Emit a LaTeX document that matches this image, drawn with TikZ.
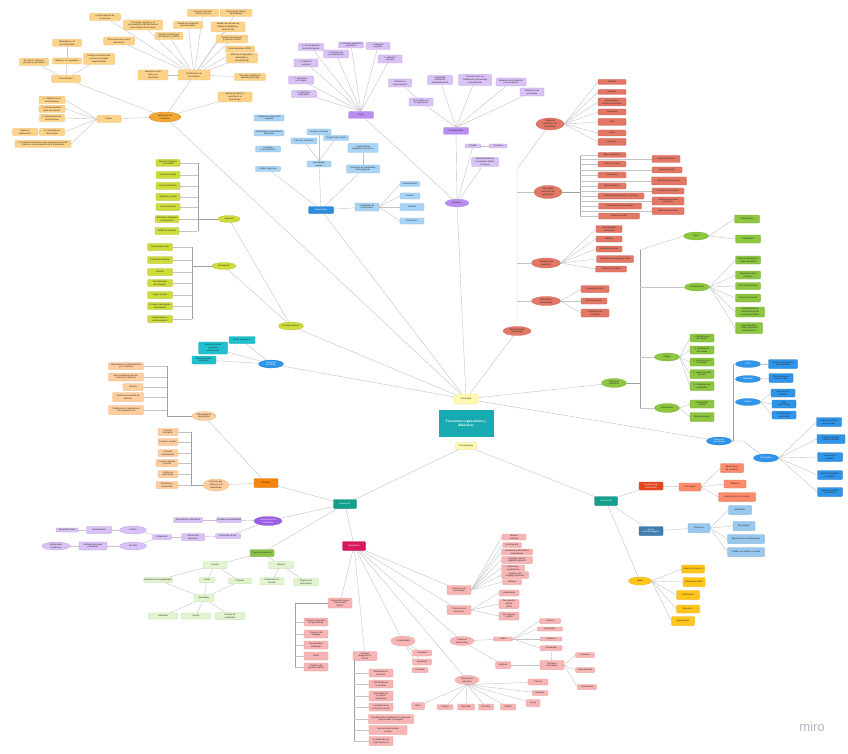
\documentclass[tikz,border=0pt]{standalone}
\usepackage{fontspec}
\setmainfont{Liberation Sans}
\newfontfamily\serifT{Liberation Serif}
\usetikzlibrary{shapes.geometric,backgrounds}
\definecolor{lnC}{HTML}{C4C4C4}
\definecolor{brC}{HTML}{A0A0A0}
\definecolor{orgF}{HTML}{FDD38A}\definecolor{orgD}{HTML}{EDB455}\definecolor{orgH}{HTML}{F2A735}
\definecolor{limF}{HTML}{CDDC39}\definecolor{limD}{HTML}{AFBE2A}
\definecolor{cyF}{HTML}{1FC1CE}\definecolor{cyD}{HTML}{14A8B4}
\definecolor{bluE}{HTML}{2F95EA}
\definecolor{peF}{HTML}{FFCD9E}\definecolor{peD}{HTML}{F2B07C}
\definecolor{orR}{HTML}{F7850F}
\definecolor{tealE}{HTML}{139F8C}
\definecolor{purE}{HTML}{9B5DE5}
\definecolor{lpF}{HTML}{D9C2F5}\definecolor{lpD}{HTML}{BB9AE8}
\definecolor{mpF}{HTML}{B98DF0}
\definecolor{grE}{HTML}{8BC34A}
\definecolor{lgF}{HTML}{E2F4CF}\definecolor{lgD}{HTML}{B8DD93}
\definecolor{magE}{HTML}{D7195E}
\definecolor{pkF}{HTML}{F8B5B5}\definecolor{pkD}{HTML}{E79393}
\definecolor{rdF}{HTML}{E27765}\definecolor{rdD}{HTML}{C9604F}
\definecolor{grR}{HTML}{8DC63F}\definecolor{grRD}{HTML}{77AD30}
\definecolor{dRed}{HTML}{E5451E}
\definecolor{salF}{HTML}{FF8B6B}
\definecolor{stB}{HTML}{3F7EAE}
\definecolor{lbF}{HTML}{98C8EE}
\definecolor{goldF}{HTML}{FFC51A}\definecolor{goldD}{HTML}{E8AE00}
\definecolor{yelF}{HTML}{FFF8B0}\definecolor{yelD}{HTML}{E6DC8A}
\definecolor{ctr}{HTML}{17AAB1}
\definecolor{lbl}{HTML}{A9D4F5}\definecolor{lbD}{HTML}{7DB7E6}
\definecolor{blH}{HTML}{2E8BDE}
\definecolor{miroC}{HTML}{B4B4C4}
\newcommand\tf{\fontsize{2.2}{2.65}\selectfont}
\newcommand\nd[6]{\node[#1,minimum width=#4pt,minimum height=#5pt] (#2) at (#3) {#6};}
\tikzset{
 bx/.style={draw,rounded corners=0.8pt,line width=0.25pt,inner sep=0.3pt,align=center,font=\tf,text=black!85},
 el/.style={ellipse,draw,line width=0.25pt,inner sep=0pt,align=center,font=\tf,text=black!85},
 org/.style={bx,fill=orgF,draw=orgD},
 lim/.style={bx,fill=limF,draw=limD},
 cyb/.style={bx,fill=cyF,draw=cyD},
 peb/.style={bx,fill=peF,draw=peD},
 lpb/.style={bx,fill=lpF,draw=lpD},
 lgb/.style={bx,fill=lgF,draw=lgD},
 pkb/.style={bx,fill=pkF,draw=pkD},
 rdb/.style={bx,fill=rdF,draw=rdD},
 grb/.style={bx,fill=grR,draw=grRD},
 blb/.style={bx,fill=bluE,draw=bluE!80!black},
 lbb/.style={bx,fill=lbl,draw=lbD},
 sab/.style={bx,fill=salF,draw=salF!80!black},
 gdb/.style={bx,fill=goldF,draw=goldD},
 yeb/.style={bx,fill=yelF,draw=yelD},
 ln/.style={draw=lnC,line width=0.4pt},
 br/.style={draw=brC,line width=0.45pt},
}
\begin{document}
\begin{tikzpicture}[x=1pt,y=-1pt]
\useasboundingbox (0,0) rectangle (848,754);
%================ CENTER
\node[fill=ctr,draw=ctr,minimum width=54pt,minimum height=26pt,inner sep=0.5pt,align=center,text=white,font=\serifT\bfseries\fontsize{3.6}{4.4}\selectfont] (Z) at (466,423) {Trastornos cognoscitivos y\\didácticos};
\nd{yeb}{Y1}{466,399}{24}{10}{Psicología}
\nd{yeb}{Y2}{466,446}{21}{7}{Psicopatología}
%================ A orange
\nd{el,fill=orgH,draw=orgH!85!black}{A0}{165,117}{32}{10}{Modelos de la\\memoria}
\nd{org}{A1}{194,75}{32}{10}{Clasificación de\\los modelos}
\nd{org}{A2}{66,79}{29}{7}{Antecedentes}
\nd{org}{A3}{109,119}{24}{7}{Etapas}
\nd{org}{a1}{105,17}{31}{7}{La investigación de\\la memoria}
\nd{org}{a2}{143,25}{39}{10}{Psicología cognitiva y el\\procesamiento de información\\como modelo de la mente}
\nd{org}{a3}{119,41}{31}{8}{El procesamiento de la\\información}
\nd{org}{a4}{169,36}{28}{7}{Modelo multialmacén\\de Atkinson y Shiffrin}
\nd{org}{a5}{188,25}{29}{7}{Modelo de niveles de\\procesamiento}
\nd{org}{a6}{203,13}{31}{7}{Memoria sensorial:\\icónica y ecoica}
\nd{org}{a7}{236,13}{32}{7}{Memoria de trabajo\\de Baddeley}
\nd{org}{a8}{228,27}{34}{10}{Modelo de memoria de\\trabajo de Baddeley y\\Hitch (1974)}
\nd{org}{a9}{232,39}{31}{8}{Agenda visoespacial\\y ejecutivo central}
\nd{org}{a10}{240,49}{29}{6}{Retén episódico (2000)}
\nd{org}{a11}{242,58}{31}{10}{Memoria a largo plazo:\\declarativa y\\procedimental}
\nd{org}{a12}{153,75}{30}{10}{Memoria a corto\\plazo y su\\capacidad}
\nd{org}{a13}{250,77}{31}{7}{Memoria semántica y\\episódica (Tulving)}
\nd{org}{a14}{235,97}{34}{10}{Memoria implícita y\\explícita en el\\aprendizaje}
\nd{org}{b1}{67,43}{29}{7}{Ebbinghaus y la\\curva del olvido}
\nd{org}{b2}{67,61}{29}{6}{Bartlett y los esquemas}
\nd{org}{b3}{34,62}{29}{7}{W. James: memoria\\primaria y secundaria}
\nd{org}{b4}{99,59}{31}{11}{Enfoque asociacionista\\y primeros estudios\\experimentales}
\nd{org}{c1}{52,100}{26}{7}{1. Codificación de\\la información}
\nd{org}{c2}{52,109}{26}{7}{2. Almacenamiento\\de la información}
\nd{org}{c3}{52,118}{25}{7}{3. Recuperación de\\la información}
\nd{org}{c4}{52,132}{25}{7}{4. Consolidación\\de la huella}
\nd{org}{c5}{25,132}{25}{7}{Repaso y\\elaboración}
\nd{org}{c6}{43,144}{56}{7}{5. El olvido: interferencia, decaimiento de la huella\\y fallos en la recuperación de la información}
%================ B lime
\nd{el,fill=limF,draw=limD}{B0}{291,326}{25}{8}{Procesos básicos}
\nd{el,fill=limF,draw=limD}{B1}{229,219}{22}{7}{Atención}
\nd{el,fill=limF,draw=limD}{B2}{224,266}{24}{7}{Percepción}
\nd{lim}{g1}{168,163}{24}{7}{Atención selectiva\\y sostenida}
\nd{lim}{g2}{168,175}{24}{7}{Atención dividida}
\nd{lim}{g3}{168,186}{24}{7}{Control inhibitorio}
\nd{lim}{g4}{168,197}{24}{7}{Vigilancia y alerta}
\nd{lim}{g5}{168,207}{24}{7}{Foco atencional}
\nd{lim}{g6}{167,219}{24}{7}{Estímulos relevantes\\e irrelevantes}
\nd{lim}{g7}{167,231}{24}{7}{Déficit de atención}
\nd{lim}{h1}{160,247}{25}{7}{Percepción visual}
\nd{lim}{h2}{160,260}{25}{7}{Percepción auditiva}
\nd{lim}{h3}{160,272}{25}{7}{Gestalt}
\nd{lim}{h4}{160,283}{25}{7}{Discriminación\\de estímulos}
\nd{lim}{h5}{160,295}{25}{7}{Figura y fondo}
\nd{lim}{h6}{160,306}{25}{7}{Procesos perceptivos\\ascendentes}
\nd{lim}{h7}{160,319}{25}{7}{Organización y\\reconocimiento}
%================ C memoria de trabajo
\nd{el,fill=bluE,draw=bluE!85!black,text=white}{C0}{271,364}{25}{8}{Memoria\\de trabajo}
\nd{cyb}{t1}{242,340}{26}{7}{Bucle fonológico}
\nd{cyb}{t2}{213,348}{29}{12}{Ejecutivo central\\y agenda\\visoespacial}
\nd{cyb}{t3}{204,360}{24}{8}{Retén episódico\\integrador}
%================ D peach
\nd{bx,fill=orR,draw=orR!85!black}{D0}{266,483}{24}{9}{Emoción}
\nd{el,fill=peF,draw=peD}{D1}{204,416}{24}{9}{Dificultades de\\aprendizaje}
\nd{el,fill=peF,draw=peD}{D2}{216,485}{26}{12}{Factores que\\influyen en el\\aprendizaje}
\nd{peb}{d1}{126,366}{35}{7}{Dificultades en la lectoescritura\\y en el cálculo}
\nd{peb}{d2}{126,377}{35}{8}{Bajo rendimiento escolar\\y fracaso académico}
\nd{peb}{d3}{133,387}{20}{7}{Dislexia}
\nd{peb}{d4}{128,397}{31}{9}{Trastorno por déficit de\\atención}
\nd{peb}{d5}{126,410}{35}{9}{Problemas de comprensión\\y de expresión oral}
\nd{peb}{e1}{168,432}{20}{7}{Factores\\biológicos}
\nd{peb}{e2}{168,442}{20}{7}{Factores sociales}
\nd{peb}{e3}{168,453}{20}{7}{Factores\\emocionales}
\nd{peb}{e4}{167,463}{22}{7}{Contexto familiar\\y escolar}
\nd{peb}{e5}{168,474}{20}{7}{Estilos de\\aprendizaje}
\nd{peb}{e6}{167,485}{22}{7}{Motivación y\\autoestima}
%================ E evaluacion
\nd{bx,fill=tealE,draw=tealE!85!black,text=white}{E}{345,504}{23}{9}{Evaluación}
\nd{el,fill=purE,draw=purE!85!black,text=white}{E1}{268,521}{28}{9}{Instrumentos de\\evaluación}
\nd{lpb}{p1}{229,520}{24}{5}{Pruebas estandarizadas}
\nd{lpb}{p0}{188,520}{29}{5}{Observación sistemática}
\nd{lpb}{p2}{228,536}{25}{5}{Entrevista clínica}
\nd{lpb}{p3}{193,537}{23}{7}{Historia del\\desarrollo}
\nd{lpb}{p4}{162,537}{19}{5}{Anamnesis}
\nd{el,fill=lpF,draw=lpD}{p5}{133,530}{27}{8}{Familia}
\nd{el,fill=lpF,draw=lpD}{p6}{133,546}{27}{8}{Escuela}
\nd{lpb}{p7}{99,530}{25}{7}{Antecedentes}
\nd{lpb}{p8}{67,530}{22}{4}{Desarrollo motor}
\nd{lpb}{p9}{93,546}{28}{8}{Informes escolares\\y docentes}
\nd{el,fill=lpF,draw=lpD}{p10}{56,546}{28}{8}{Rendimiento\\académico}
\nd{bx,fill=grE,draw=grE!85!black}{E2}{262,553}{24}{7}{Tipos de evaluación}
\nd{lgb}{n1}{215,565}{24}{7}{Formal}
\nd{lgb}{n2}{281,565}{25}{7}{Informal}
\nd{lgb}{n3}{158,580}{25}{5}{Evaluación psicopedagógica}
\nd{lgb}{n4}{207,580}{16}{5}{Inicial}
\nd{lgb}{n5}{240,581}{23}{5}{Continua}
\nd{lgb}{n6}{272,581}{24}{7}{Cuestionarios y\\escalas}
\nd{lgb}{n7}{306,582}{25}{7}{Registros de\\observación}
\nd{lgb}{n8}{204,598}{20}{7}{Resultados}
\nd{lgb}{n9}{163,616}{29}{6}{Individual}
\nd{lgb}{n10}{196,616}{29}{6}{Grupal}
\nd{lgb}{n11}{230,616}{30}{7}{Informe de\\resultados}
\nd{bx,fill=magE,draw=magE!85!black,text=white}{E3}{354,546}{23}{9}{Diagnóstico}
\nd{pkb}{m1}{340,603}{24}{10}{Diagnóstico según\\criterios del\\DSM-5}
\nd{pkb}{r1}{316,622}{24}{8}{Trastorno específico\\del aprendizaje}
\nd{pkb}{r2}{316,634}{24}{8}{Trastorno del\\lenguaje}
\nd{pkb}{r3}{316,645}{24}{8}{Discapacidad\\intelectual}
\nd{pkb}{r4}{316,656}{24}{8}{TDAH}
\nd{pkb}{r5}{316,667}{24}{8}{Trastorno del\\espectro autista}
\nd{pkb}{m2}{365,656}{24}{9}{Criterios\\diagnósticos\\CIE-11}
\nd{pkb}{s1}{381,673}{24}{8}{Dificultades en\\la lectura}
\nd{pkb}{s2}{381,684}{24}{8}{Dificultades en\\la escritura}
\nd{pkb}{s3}{381,696}{24}{10}{Dificultades en\\el cálculo\\matemático}
\nd{pkb}{s4}{381,707}{24}{8}{Persistencia de\\al menos 6 meses}
\nd{pkb}{s5}{391,719}{45}{9}{Rendimiento por debajo de lo esperado\\para la edad cronológica}
\nd{pkb}{s6}{388,730}{38}{9}{Inicio durante la edad\\escolar}
\nd{pkb}{s7}{381,741}{24}{9}{No explicado por\\otros trastornos}
\nd{el,fill=pkF,draw=pkD}{m3}{403,641}{24}{10}{Comorbilidad}
\nd{pkb}{u1}{422,653}{19}{6}{Ansiedad}
\nd{pkb}{u2}{422,662}{19}{6}{Depresión}
\nd{pkb}{u3}{420,670}{16}{5}{Conducta}
\nd{pkb}{m4}{459,590}{24}{9}{Trastornos de\\aprendizaje}
\nd{pkb}{v1}{514,537}{24}{6}{Dislexia\\evolutiva}
\nd{pkb}{v2}{512,545}{19}{5}{Disortografía}
\nd{pkb}{v3}{517,552}{31}{6}{Discalculia y dificultades\\matemáticas}
\nd{pkb}{v4}{517,560}{31}{7}{Disgrafía motriz y\\disgrafía disléxica}
\nd{pkb}{v5}{513,568}{23}{6}{Dispraxia y\\coordinación}
\nd{pkb}{v6}{515,575}{27}{7}{Trastorno del\\lenguaje expresivo}
\nd{pkb}{v7}{512,582}{19}{5}{Disfasia}
\nd{pkb}{m5}{459,610}{24}{9}{Trastornos del\\desarrollo}
\nd{pkb}{w1}{509,593}{20}{6}{Intelectuales}
\nd{pkb}{w2}{509,604}{20}{9}{Del espectro\\autista\\(TEA)}
\nd{pkb}{w3}{509,616}{20}{8}{Del lenguaje\\y habla}
\nd{el,fill=pkF,draw=pkD}{m6}{462,641}{24}{9}{Trastornos\\atencionales}
\nd{pkb}{x1}{503,639}{19}{4}{TDAH}
\nd{pkb}{x2}{503,665}{15}{7}{Subtipos}
\nd{pkb}{y1}{550,621}{21}{5}{Inatento}
\nd{pkb}{y2}{550,629}{25}{4}{Hiperactivo}
\nd{pkb}{y3}{551,639}{22}{4}{Impulsivo}
\nd{pkb}{y4}{551,648}{22}{5}{Combinado}
\nd{pkb}{y5}{552,665}{24}{9}{Síntomas\\principales}
\nd{pkb}{z1}{585,655}{19}{5}{Inatención}
\nd{pkb}{z2}{585,670}{19}{5}{Hiperactividad}
\nd{pkb}{z3}{587,687}{19}{5}{Impulsividad}
\nd{el,fill=pkF,draw=pkD}{m7}{467,680}{24}{9}{Intervención\\educativa}
\nd{pkb}{k1}{538,682}{20}{6}{Tutorías}
\nd{pkb}{k2}{540,693}{16}{5}{Refuerzo}
\nd{pkb}{k3}{533,703}{14}{7}{Apoyo}
\nd{pkb}{k4}{508,707}{15}{6}{Familia}
\nd{pkb}{k5}{486,707}{15}{6}{Docentes}
\nd{pkb}{k6}{466,707}{17}{6}{Orientador}
\nd{pkb}{k7}{445,707}{16}{5}{Terapia}
\nd{pkb}{k8}{418,706}{13}{7}{Otros}
%================ I intervencion
\nd{bx,fill=tealE,draw=tealE!85!black,text=white}{I0}{606,501}{23}{9}{Intervención}
\nd{bx,fill=dRed,draw=dRed!85!black,text=white}{I1}{651,486}{24}{8}{Programas de\\intervención}
\nd{sab}{I1a}{690,487}{22}{8}{Estrategias}
\nd{sab}{i1}{732,468}{23}{9}{Modificación\\de conducta}
\nd{sab}{i2}{735,484}{22}{8}{Refuerzo}
\nd{sab}{i3}{737,497}{37}{9}{Adaptaciones curriculares}
\nd{bx,fill=stB,draw=stB!85!black,text=white}{I2}{651,531}{24}{9}{Apoyo\\psicopedagógico}
\nd{bx,fill=lbF,draw=lbF!80!black}{I2a}{699,528}{22}{9}{Recursos}
\nd{bx,fill=lbF,draw=lbF!80!black}{j1}{740,510}{23}{9}{Materiales}
\nd{bx,fill=lbF,draw=lbF!80!black}{j2}{744,526}{22}{9}{Tecnologías}
\nd{bx,fill=lbF,draw=lbF!80!black}{j3}{746,539}{37}{9}{Apoyo de otros profesionales}
\nd{bx,fill=lbF,draw=lbF!80!black}{j4}{746,552}{37}{9}{Trabajo con familia y escuela}
\nd{el,fill=goldF,draw=goldD}{I3}{640,581}{23}{8}{Fases}
\nd{gdb}{o1}{693,569}{23}{8}{Detección temprana}
\nd{gdb}{o2}{694,582}{22}{9}{Evaluación inicial}
\nd{gdb}{o3}{688,595}{23}{9}{Planificación}
\nd{gdb}{o4}{688,609}{23}{8}{Ejecución}
\nd{gdb}{o5}{683,621}{23}{9}{Seguimiento}
%================ T ritmos
\nd{el,fill=bluE,draw=bluE!85!black,text=white}{T0}{719,441}{25}{8}{Ritmos de\\aprendizaje}
\nd{el,fill=bluE,draw=bluE!85!black,text=white}{T1}{748,364}{25}{7}{Lento}
\nd{el,fill=bluE,draw=bluE!85!black,text=white}{T2}{748,379}{25}{7}{Moderado}
\nd{el,fill=bluE,draw=bluE!85!black,text=white}{T3}{748,402}{25}{7}{Rápido}
\nd{el,fill=bluE,draw=bluE!85!black,text=white}{T4}{766,458}{25}{8}{Estrategias}
\nd{blb}{T1a}{783,364}{29}{9}{Requiere más tiempo\\para aprender}
\nd{blb}{T2a}{781,378}{24}{9}{Ritmo esperado\\para su edad}
\nd{blb}{T3a}{783,393}{24}{8}{Aprende con\\facilidad}
\nd{blb}{T3b}{784,404}{24}{8}{Altas\\capacidades}
\nd{blb}{T3c}{784,415}{24}{8}{Necesita retos\\adicionales}
\nd{blb}{T4a}{829,422}{25}{9}{Adaptar el tiempo\\de las tareas}
\nd{blb}{T4b}{831,439}{28}{9}{Dividir la tarea en\\pasos pequeños}
\nd{blb}{T4c}{830,457}{25}{9}{Usar apoyos\\visuales}
\nd{blb}{T4d}{830,475}{25}{9}{Retroalimentación\\inmediata}
\nd{blb}{T4e}{830,492}{25}{9}{Refuerzo positivo\\y motivación}
%================ F funciones ejecutivas
\nd{el,fill=grR,draw=grRD}{F0}{614,383}{25}{9}{Funciones\\ejecutivas}
\nd{el,fill=grR,draw=grRD}{F1}{696,236}{25}{8}{Tipos}
\nd{el,fill=grR,draw=grRD}{F2}{697,287}{25}{8}{Componentes}
\nd{el,fill=grR,draw=grRD}{F3}{667,357}{25}{8}{Etapas}
\nd{el,fill=grR,draw=grRD}{F4}{667,408}{25}{9}{Alteraciones}
\nd{grb}{fa1}{747,219}{25}{8}{Planificación}
\nd{grb}{fa2}{748,239}{25}{8}{Flexibilidad}
\nd{grb}{fb1}{748,260}{25}{8}{Memoria de trabajo y\\control inhibitorio}
\nd{grb}{fb2}{748,275}{25}{8}{Regulación de la\\conducta}
\nd{grb}{fb3}{748,286}{25}{7}{Toma de decisiones}
\nd{grb}{fb4}{748,298}{25}{8}{Atención sostenida}
\nd{grb}{fb5}{750,312}{29}{10}{Autorregulación y\\monitorización del\\propio aprendizaje}
\nd{grb}{fb6}{749,328}{27}{11}{Desarrollo de la\\corteza prefrontal\\en la infancia}
\nd{grb}{fc1}{702,338}{24}{8}{1. Identificación\\del objetivo}
\nd{grb}{fc2}{702,350}{24}{8}{2. Planificación\\de la tarea}
\nd{grb}{fc3}{702,362}{24}{8}{3. Ejecución de la\\estrategia}
\nd{grb}{fc4}{702,374}{24}{9}{4. Supervisión del\\proceso}
\nd{grb}{fc5}{702,386}{24}{9}{5. Evaluación de\\resultados}
\nd{grb}{fd1}{702,404}{24}{8}{Impulsividad\\y rigidez}
\nd{grb}{fd2}{702,417}{24}{9}{Desorganización}
%================ R red cluster
\nd{el,fill=rdF,draw=rdD}{R0}{517,331}{28}{9}{Dificultades del\\aprendizaje}
\nd{el,fill=rdF,draw=rdD}{R1}{550,124}{28}{12}{Trastornos\\específicos del\\aprendizaje}
\nd{el,fill=rdF,draw=rdD}{R2}{548,192}{28}{13}{Dificultades\\generales del\\aprendizaje}
\nd{el,fill=rdF,draw=rdD}{R3}{546,263}{29}{10}{Trastornos del\\desarrollo}
\nd{el,fill=rdF,draw=rdD}{R4}{546,301}{29}{9}{Dificultades\\emocionales}
\nd{rdb}{ra1}{612,82}{28}{5}{Dislexia}
\nd{rdb}{ra2}{612,92}{28}{5}{Disgrafía}
\nd{rdb}{ra3}{612,102}{28}{8}{Disortografía y\\errores de escritura}
\nd{rdb}{ra4}{612,112}{28}{6}{Discalculia}
\nd{rdb}{ra5}{612,122}{28}{7}{TDA}
\nd{rdb}{ra6}{612,133}{28}{6}{TDAH}
\nd{rdb}{ra7}{612,142}{28}{7}{Dispraxia}
\nd{rdb}{rb1}{612,155}{28}{5}{Bajo rendimiento}
\nd{rdb}{rb2}{612,164}{28}{6}{Retraso escolar}
\nd{rdb}{rb3}{612,175}{28}{6}{Inmadurez}
\nd{rdb}{rb4}{612,186}{28}{6}{Baja motivación}
\nd{rdb}{rb5}{621,196}{46}{6}{Problemas de atención y memoria}
\nd{rdb}{rb6}{620,206}{43}{6}{Falta de hábitos de estudio}
\nd{rdb}{rb7}{619,216}{41}{6}{Déficit sensorial}
\nd{rdb}{rc1}{666,159}{28}{7}{Causas familiares}
\nd{rdb}{rc2}{667,170}{30}{6}{Causas sociales}
\nd{rdb}{rc3}{669,181}{35}{8}{Métodos de enseñanza}
\nd{rdb}{rc4}{668,191}{32}{6}{Factores emocionales}
\nd{rdb}{rc5}{668,201}{32}{8}{Problemas de salud\\y nutrición}
\nd{rdb}{rc6}{668,211}{32}{7}{Absentismo escolar}
\nd{rdb}{rd1}{609,229}{26}{7}{Discapacidad\\intelectual}
\nd{rdb}{rd2}{609,239}{26}{6}{Autismo}
\nd{rdb}{rd3}{609,249}{26}{6}{Síndrome de Down}
\nd{rdb}{rd4}{615,259}{37}{7}{Trastornos del lenguaje y habla}
\nd{rdb}{rd5}{611,269}{31}{6}{Trastornos motores}
\nd{rdb}{re1}{595,289}{28}{7}{Ansiedad escolar}
\nd{rdb}{re2}{594,301}{26}{6}{Baja autoestima}
\nd{rdb}{re3}{595,313}{28}{8}{Problemas de\\conducta}
%================ P purple
\nd{el,fill=mpF,draw=lpD}{P0}{457,203}{24}{8}{Memoria}
\nd{bx,fill=mpF,draw=lpD}{P1}{361,115}{25}{7}{Tipos}
\nd{bx,fill=mpF,draw=lpD}{P2}{456,131}{25}{7}{Características}
\nd{lpb}{P3}{473,146}{16}{4}{Estado}
\nd{lpb}{P3a}{498,146}{18}{4}{Procesos}
\nd{lpb}{P4}{485,162}{27}{9}{Neuroanatomía de\\la memoria: lóbulo\\temporal}
\nd{lpb}{pa1}{311,47}{25}{7}{1. Procesamiento\\de la información}
\nd{lpb}{pa2}{336,54}{25}{8}{2. Memoria de\\procedimientos}
\nd{lpb}{pa3}{351,45}{25}{6}{3. Memoria semántica\\y episódica}
\nd{lpb}{pa4}{378,46}{24}{7}{4. Memoria\\explícita}
\nd{lpb}{pa5}{390,59}{24}{8}{5. Memoria\\implícita}
\nd{lpb}{pa6}{306,63}{24}{8}{6. Memoria\\sensorial}
\nd{lpb}{pa7}{301,80}{25}{8}{7. Memoria a\\corto plazo}
\nd{lpb}{pa8}{304,94}{25}{7}{8. Memoria a\\largo plazo}
\nd{lpb}{pb1}{440,80}{25}{9}{Capacidad\\limitada de\\almacenamiento}
\nd{lpb}{pb2}{475,80}{33}{11}{Proceso activo de\\codificación, almacenaje\\y recuperación}
\nd{lpb}{pb3}{511,82}{30}{8}{Relación con la atención\\y la percepción}
\nd{lpb}{pb4}{532,92}{24}{8}{Influida por las\\emociones}
\nd{lpb}{pb5}{421,102}{24}{8}{Se modifica con\\la experiencia}
\nd{lpb}{pb6}{400,83}{23}{8}{Dinámica y\\reconstructiva}
%================ Q blue
\nd{bx,fill=blH,draw=blH!85!black,text=white}{Q0}{321,210}{25}{7}{Capacidades}
\nd{lbb}{Q1}{367,207}{24}{8}{Habilidades de\\pensamiento}
\nd{lbb}{qa1}{410,184}{20}{5}{Razonamiento}
\nd{lbb}{qa2}{410,196}{20}{6}{Análisis}
\nd{lbb}{qa3}{412,207}{24}{7}{Síntesis}
\nd{lbb}{qa4}{412,221}{24}{6}{Resolución}
\nd{lbb}{Q2}{319,164}{24}{6}{Aprendizaje\\escolar}
\nd{lbb}{qb1}{319,132}{24}{6}{Lectura y escritura}
\nd{lbb}{qb2}{304,141}{26}{6}{Cálculo y aritmética}
\nd{lbb}{qb3}{336,138}{25}{5}{Comprensión lectora}
\nd{lbb}{Q3}{363,148}{30}{9}{Capacidad de\\adaptación al entorno}
\nd{lbb}{Q4}{363,169}{33}{8}{Desarrollo de habilidades\\metacognitivas}
\nd{lbb}{Q5}{269,118}{30}{6}{Inteligencia y desarrollo\\cognitivo}
\nd{lbb}{Q6}{269,133}{30}{6}{Creatividad y pensamiento\\divergente}
\nd{lbb}{Q7}{268,149}{25}{6}{Lenguaje\\y comunicación}
\nd{lbb}{Q8}{268,169}{25}{5}{Estilos cognitivos}
%================ logo
\node[text=miroC,font=\fontsize{13}{13}\selectfont,inner sep=0pt] (logo) at (812,727) {miro};
%================ CONNECTORS
\begin{pgfonlayer}{background}
\fill[white] (0,0) rectangle (848,754);
% hub lines
\foreach \nn in {A0,B0,Q0,P0,R0,F0,C0,T0} \draw[ln] (Y1) -- (\nn);
\draw[ln] (Y2) -- (E); \draw[ln] (Y2) -- (I0);
% A
\foreach \nn in {A1,A2,A3,a14} \draw[ln] (A0) -- (\nn);
\foreach \nn in {a1,a2,a3,a4,a5,a6,a7,a8,a9,a10,a11,a12,a13} \draw[ln] (A1) -- (\nn);
\draw[ln] (A2) -- (b2); \draw[ln] (b2) -- (b1); \draw[ln] (A2) -- (b3); \draw[ln] (A2) -- (b4);
\foreach \nn in {c1,c2,c3,c4,c6} \draw[ln] (A3.west) -- (\nn.east);
\draw[ln] (c5) -- (c4);
% B
\draw[ln] (B0) -- (B1); \draw[ln] (B0) -- (B2);
\coordinate (bB1) at (198,219); \coordinate (bB2) at (192,266);
\draw[br] (B1.west) -- (bB1); \draw[br] (g1.east -| bB1) -- (g7.east -| bB1);
\foreach \nn in {g1,g2,g3,g4,g5,g6,g7} \draw[ln] (\nn.east) -- (\nn.east -| bB1);
\draw[br] (B2.west) -- (bB2); \draw[br] (h1.east -| bB2) -- (h7.east -| bB2);
\foreach \nn in {h1,h2,h3,h4,h5,h6,h7} \draw[ln] (\nn.east) -- (\nn.east -| bB2);
% C
\foreach \nn in {t1,t2,t3} \draw[ln] (C0) -- (\nn);
% D
\draw[ln] (D0) -- (D1); \draw[ln] (D0) -- (D2); \draw[ln] (D0) -- (E);
\coordinate (bD1) at (167,416); \coordinate (bD2) at (191,485);
\draw[br] (D1.west) -- (bD1); \draw[br] (d1.east -| bD1) -- (bD1);
\foreach \nn in {d1,d2,d3,d4,d5} \draw[ln] (\nn.east) -- (\nn.east -| bD1);
\draw[br] (D2.west) -- (bD2); \draw[br] (e1.east -| bD2) -- (bD2);
\foreach \nn in {e1,e2,e3,e4,e5,e6} \draw[ln] (\nn.east) -- (\nn.east -| bD2);
% E
\foreach \nn in {E1,E2,E3} \draw[ln] (E) -- (\nn);
\draw[ln] (E1) -- (p1); \draw[ln] (p1) -- (p0); \draw[ln] (E1) -- (p2); \draw[ln] (p2) -- (p3);
\draw[ln] (p3) -- (p4); \draw[ln] (p4) -- (p5); \draw[ln] (p4) -- (p6);
\draw[ln] (p5) -- (p7); \draw[ln] (p7) -- (p8); \draw[ln] (p6) -- (p9); \draw[ln] (p9) -- (p10);
\draw[ln] (E2) -- (n1); \draw[ln] (E2) -- (n2);
\foreach \nn in {n3,n4,n5} \draw[ln] (n1) -- (\nn);
\draw[ln] (n2) -- (n6); \draw[ln] (n2) -- (n7);
\foreach \nn in {n3,n4,n5} \draw[ln] (\nn) -- (n8);
\foreach \nn in {n9,n10,n11} \draw[ln] (n8) -- (\nn);
\foreach \nn in {m1,m2,m3,m4,m5,m6,m7} \draw[ln] (E3) -- (\nn);
\coordinate (bM1) at (295,603);
\draw[br] (m1.west) -- (bM1); \draw[br] (bM1) -- (r5.west -| bM1);
\foreach \nn in {r1,r2,r3,r4,r5} \draw[ln] (\nn.west) -- (\nn.west -| bM1);
\coordinate (bM2t) at (354,660);
\draw[br] (m2.south west -| bM2t) -- (s7.west -| bM2t);
\foreach \nn in {s1,s2,s3,s4,s5,s6,s7} \draw[ln] (\nn.west) -- (\nn.west -| bM2t);
\foreach \nn in {u1,u2,u3} \draw[ln] (m3) -- (\nn);
\foreach \nn in {v1,v2,v3,v4,v5,v6,v7} \draw[ln] (m4.east) -- (\nn.west);
\foreach \nn in {w1,w2,w3} \draw[ln] (m5.east) -- (\nn.west);
\draw[ln] (m6) -- (x1); \draw[ln] (m6) -- (x2);
\foreach \nn in {y1,y2,y3,y4} \draw[ln] (x1.east) -- (\nn.west);
\draw[ln] (x2) -- (y5); \draw[ln] (y4) -- (y5);
\foreach \nn in {z1,z2,z3} \draw[ln] (y5.east) -- (\nn.west);
\foreach \nn in {k1,k2,k3,k4,k5,k6,k7,k8} \draw[ln] (m7.south) -- (\nn);
% I
\foreach \nn in {I1,I2,I3} \draw[ln] (I0) -- (\nn);
\draw[ln] (I1) -- (I1a);
\foreach \nn in {i1,i2,i3} \draw[ln] (I1a.east) -- (\nn.west);
\draw[ln] (I2) -- (I2a);
\foreach \nn in {j1,j2,j3,j4} \draw[ln] (I2a.east) -- (\nn.west);
\foreach \nn in {o1,o2,o3,o4,o5} \draw[ln] (I3.east) -- (\nn.west);
% T
\coordinate (bT) at (733,441);
\draw[br] (T0.east) -- (bT); \draw[br] (bT) -- (T1.west -| bT);
\foreach \nn in {T1,T2,T3} \draw[ln] (\nn.west -| bT) -- (\nn.west);
\coordinate (bT4) at (743,441);
\draw[ln] (bT) -- (bT4) -- (T4);
\draw[ln] (T1) -- (T1a); \draw[ln] (T2) -- (T2a);
\foreach \nn in {T3a,T3b,T3c} \draw[ln] (T3.east) -- (\nn.west);
\foreach \nn in {T4a,T4b,T4c,T4d,T4e} \draw[ln] (T4.east) -- (\nn.west);
% F
\coordinate (bF) at (640,383); \coordinate (bFt) at (640,250);
\draw[br] (F0.east) -- (bF); \draw[br] (bFt) -- (F4.west -| bF);
\draw[ln] (bFt) -- (F1.west);
\foreach \nn in {F2,F3,F4} \draw[ln] (\nn.west -| bF) -- (\nn.west);
\draw[ln] (F1.east) -- (fa1.west); \draw[ln] (F1.east) -- (fa2.west);
\foreach \nn in {fb1,fb2,fb3,fb4,fb5,fb6} \draw[ln] (F2.east) -- (\nn.west);
\foreach \nn in {fc1,fc2,fc3,fc4,fc5} \draw[ln] (F3.east) -- (\nn.west);
\foreach \nn in {fd1,fd2} \draw[ln] (F4.east) -- (\nn.west);
% R
\coordinate (rv1) at (517,169); \coordinate (rv2) at (517,192);
\coordinate (rv3) at (517,263); \coordinate (rv4) at (517,301);
\draw[ln] (R0.north) -- (rv1) -- (R1);
\draw[ln] (rv2) -- (R2.west); \draw[ln] (rv3) -- (R3.west); \draw[ln] (rv4) -- (R4.west);
\foreach \nn in {ra1,ra2,ra3,ra4,ra5,ra6,ra7} \draw[ln] (R1.east) -- (\nn.west);
\coordinate (bR2) at (580,192);
\draw[br] (R2.east) -- (bR2); \draw[br] (rb1.west -| bR2) -- (rb7.west -| bR2);
\foreach \nn in {rb1,rb2,rb3,rb4,rb5,rb6,rb7,rc1,rc2,rc3,rc4,rc5,rc6} \draw[ln] (\nn.west -| bR2) -- (\nn.west);
\foreach \nn in {rd1,rd2,rd3,rd4,rd5} \draw[ln] (R3.east) -- (\nn.west);
\foreach \nn in {re1,re2,re3} \draw[ln] (R4.east) -- (\nn.west);
% P
\foreach \nn in {P1,P2,P3,P4} \draw[ln] (P0) -- (\nn);
\draw[ln] (P3) -- (P3a);
\foreach \nn in {pa1,pa2,pa3,pa4,pa5,pa6,pa7,pa8} \draw[ln] (P1.north) -- (\nn);
\foreach \nn in {pb1,pb2,pb3,pb4,pb5} \draw[ln] (P2.north) -- (\nn);
\draw[ln] (pb6) -- (pb5);
% Q
\draw[ln] (Q0) -- (Q1); \draw[ln] (Q0) -- (Q2); \draw[ln] (Q0) -- (Q4); \draw[ln] (Q0) -- (Q8);
\draw[ln] (Q3) -- (Q4);
\foreach \nn in {qa1,qa2,qa3,qa4} \draw[ln] (Q1.east) -- (\nn.west);
\foreach \nn in {qb1,qb2,qb3} \draw[ln] (Q2.north) -- (\nn);
\end{pgfonlayer}
\end{tikzpicture}
\end{document}
